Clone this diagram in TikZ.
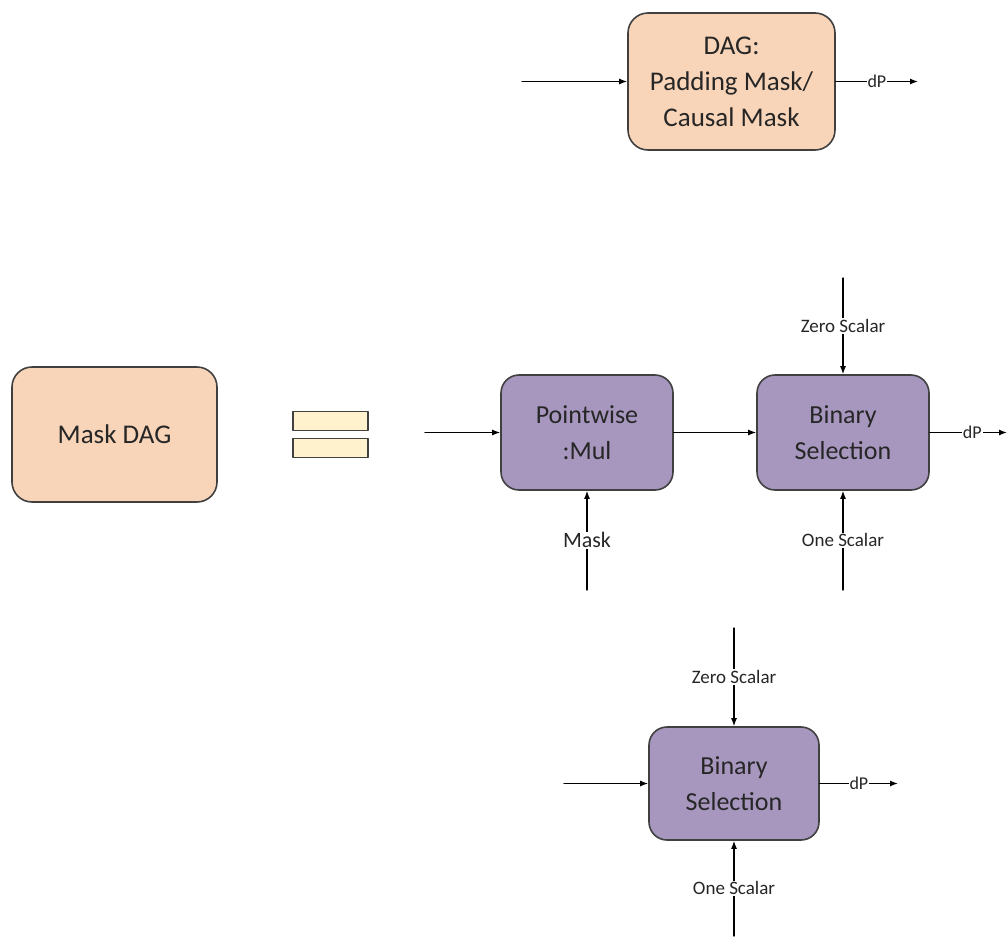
\documentclass[tikz,border=0pt]{standalone}
\usepackage{fontspec}
\setmainfont{Carlito}
\usetikzlibrary{arrows.meta}
\definecolor{peach}{RGB}{248,213,185}
\definecolor{lilac}{RGB}{167,151,190}
\definecolor{cream}{RGB}{255,242,204}
\definecolor{edge}{RGB}{64,64,64}
\definecolor{ink}{RGB}{38,38,38}
\tikzset{
	dagbox/.style={draw=edge,line width=1.6pt,fill=peach,rounded corners=20pt,align=center,text=ink,font=\fontsize{27}{36}\selectfont},
	opbox/.style={draw=edge,line width=1.6pt,fill=lilac,rounded corners=18pt,align=center,text=ink,minimum width=172pt,minimum height=115pt,font=\fontsize{26}{36}\selectfont},
	eqbar/.style={draw=edge,line width=1.4pt,fill=cream,minimum width=75pt,minimum height=19pt,inner sep=0pt},
	wire/.style={line width=1.3pt,-{Latex[length=8pt,width=6pt]}},
	tag/.style={fill=white,inner sep=1pt,text=ink,font=\fontsize{19}{22}\selectfont},
}

\begin{document}
\begin{tikzpicture}[line cap=round,line join=round,x=1pt,y=-1pt]
		\useasboundingbox (0,0) rectangle (1008,937);
		% top: the DAG on its own
		\node[dagbox,minimum width=207pt,minimum height=137pt] (dag) at (731.5,81.5) {DAG:\\Padding Mask/\\Causal Mask};
		\coordinate (dagin) at (522,81.5);
		\coordinate (dagout) at (918,81.5);
		\draw [wire] (dagin) -- (dag);
		\draw [wire] (dag) -- node[tag,font=\fontsize{18}{20}\selectfont] {dP} (dagout);
		% left side of the equation
		\node[dagbox,minimum width=205pt,minimum height=135pt] (maskdag) at (114.5,434.5) {Mask DAG};
		\node[eqbar] (eqtop) at (330.5,421) {};
		\node[eqbar] (eqbot) at (330.5,448) {};
		% right side: mul then select
		\node[opbox] (mul) at (587,432.5) {Pointwise\\:Mul};
		\node[opbox] (sel) at (843,432.5) {Binary\\Selection};
		\coordinate (mulin) at (425,432.5);
		\coordinate (maskin) at (587,590);
		\coordinate (zeroin) at (843,278);
		\coordinate (onein) at (843,590);
		\coordinate (selout) at (1007,432.5);
		\draw [wire] (mulin) -- (mul);
		\draw [wire] (mul) -- (sel);
		\draw [wire] (maskin) -- node[tag,font=\fontsize{22}{24}\selectfont] {Mask} (mul);
		\draw [wire] (zeroin) -- node[tag] {Zero Scalar} (sel);
		\draw [wire] (onein) -- node[tag] {One Scalar} (sel);
		\draw [wire] (sel) -- node[tag,pos=0.55,font=\fontsize{18}{20}\selectfont] {dP} (selout);
		% bottom: select alone
		\node[opbox,minimum width=170pt,minimum height=113pt] (sel2) at (734,783.5) {Binary\\Selection};
		\coordinate (sel2in) at (564,783.5);
		\coordinate (zero2in) at (734,628);
		\coordinate (one2in) at (734,936);
		\coordinate (sel2out) at (898,783.5);
		\draw [wire] (sel2in) -- (sel2);
		\draw [wire] (zero2in) -- node[tag] {Zero Scalar} (sel2);
		\draw [wire] (one2in) -- node[tag] {One Scalar} (sel2);
		\draw [wire] (sel2) -- node[tag,font=\fontsize{18}{20}\selectfont] {dP} (sel2out);
\end{tikzpicture}
\end{document}
